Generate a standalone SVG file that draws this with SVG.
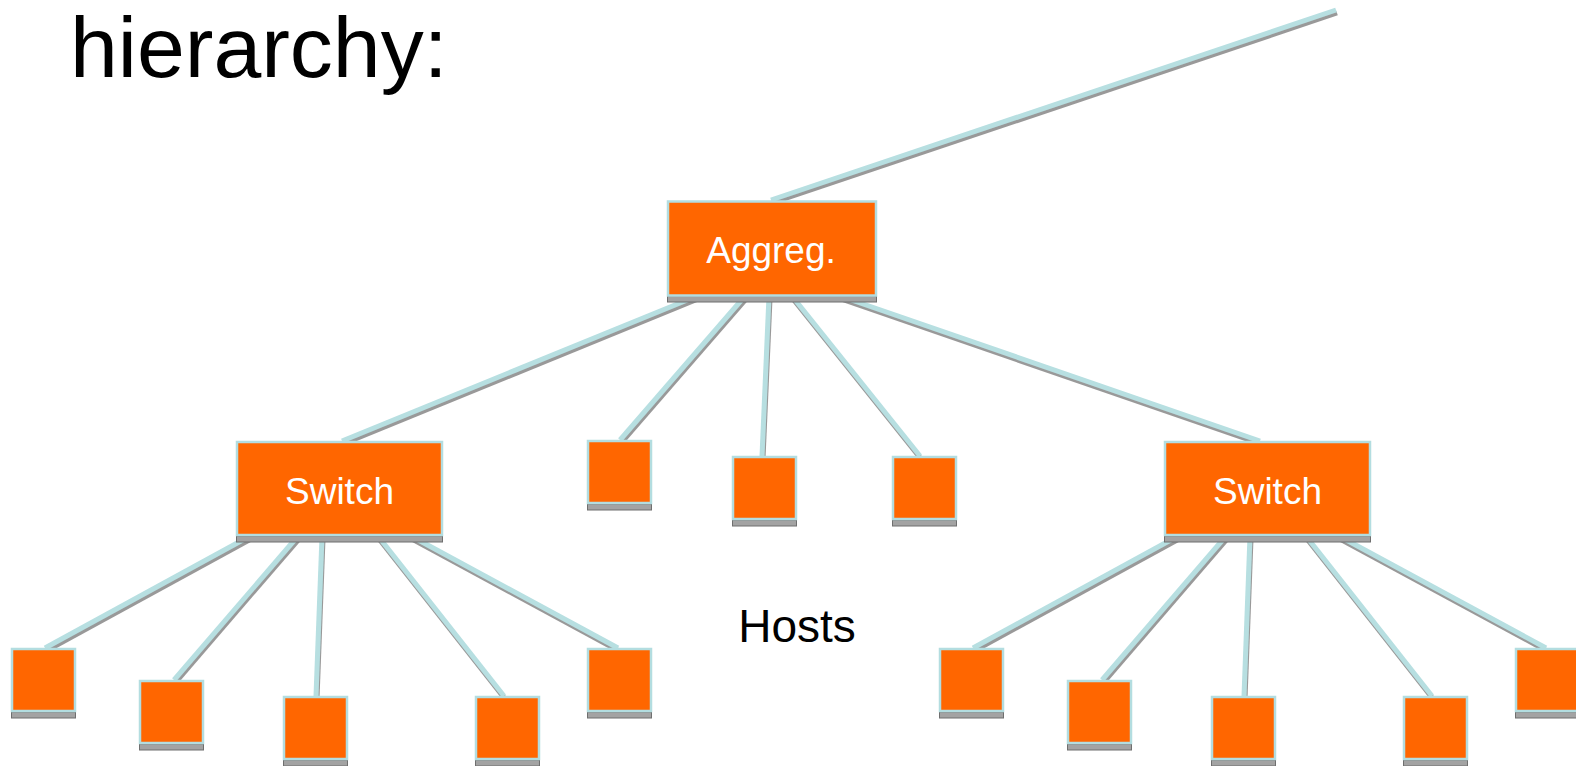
<svg xmlns="http://www.w3.org/2000/svg" width="1576" height="766" viewBox="0 0 1576 766">
<defs>
<filter id="sh" x="-5%" y="-5%" width="110%" height="110%">
<feDropShadow dx="1" dy="3" stdDeviation="0" flood-color="#999999" flood-opacity="1"/>
</filter>
</defs>
<style>
.bg{fill:#ffffff}
.ln{stroke:#b7dfe1;stroke-width:5;fill:none;stroke-linecap:butt}
.box{fill:#ff6600;stroke:#b3dde0;stroke-width:2.5}
.bar{fill:#a3a3a3;stroke:#6f6f6f;stroke-width:1}
.lbl{font-family:"Liberation Sans",Arial,sans-serif;fill:#ffffff;font-size:37px;text-anchor:middle}
.txt{font-family:"Liberation Sans",Arial,sans-serif;fill:#000000}
</style>
<rect class="bg" x="0" y="0" width="1576" height="766"/>
<text class="txt" x="70" y="77" font-size="86">hierarchy:</text>
<text class="txt" x="797" y="642" font-size="46" text-anchor="middle">Hosts</text>
<g id="connectors" filter="url(#sh)">
<line class="ln" x1="771" y1="200" x2="1336" y2="10"/>
<line class="ln" x1="697" y1="296" x2="342" y2="441"/>
<line class="ln" x1="745" y1="296" x2="620" y2="440"/>
<line class="ln" x1="769" y1="296" x2="762" y2="456"/>
<line class="ln" x1="792" y1="296" x2="920" y2="456"/>
<line class="ln" x1="840" y1="296" x2="1260" y2="441"/>
<line class="ln" x1="250" y1="536" x2="45" y2="648"/>
<line class="ln" x1="298" y1="536" x2="174" y2="680"/>
<line class="ln" x1="322" y1="536" x2="316" y2="696"/>
<line class="ln" x1="378" y1="536" x2="504" y2="696"/>
<line class="ln" x1="411" y1="536" x2="618" y2="648"/>
<line class="ln" x1="1178" y1="536" x2="973" y2="648"/>
<line class="ln" x1="1226" y1="536" x2="1102" y2="680"/>
<line class="ln" x1="1250" y1="536" x2="1244" y2="696"/>
<line class="ln" x1="1306" y1="536" x2="1432" y2="696"/>
<line class="ln" x1="1339" y1="536" x2="1546" y2="648"/>
</g>
<g id="aggreg">
<rect class="bar" x="667.5" y="296" width="209" height="6"/>
<rect class="box" x="668" y="201.5" width="208" height="94"/>
<text class="lbl" x="771" y="263">Aggreg.</text>
</g>
<g id="switch-left">
<rect class="bar" x="236.5" y="536" width="206" height="6"/>
<rect class="box" x="237" y="442" width="205" height="93"/>
<text class="lbl" x="339.5" y="504">Switch</text>
</g>
<g id="switch-right">
<rect class="bar" x="1164.5" y="536" width="206" height="6"/>
<rect class="box" x="1165" y="442" width="205" height="93"/>
<text class="lbl" x="1267.5" y="504">Switch</text>
</g>
<g id="host-m1"><rect class="bar" x="587.5" y="504" width="64" height="6"/><rect class="box" x="588" y="441" width="63" height="62"/></g>
<g id="host-m2"><rect class="bar" x="732.5" y="520" width="64" height="6"/><rect class="box" x="733" y="457" width="63" height="62"/></g>
<g id="host-m3"><rect class="bar" x="892.5" y="520" width="64" height="6"/><rect class="box" x="893" y="457" width="63" height="62"/></g>
<g id="host-l1"><rect class="bar" x="11.5" y="712" width="64" height="6"/><rect class="box" x="12" y="649" width="63" height="62"/></g>
<g id="host-l2"><rect class="bar" x="139.5" y="744" width="64" height="6"/><rect class="box" x="140" y="681" width="63" height="62"/></g>
<g id="host-l3"><rect class="bar" x="283.5" y="760" width="64" height="6"/><rect class="box" x="284" y="697" width="63" height="62"/></g>
<g id="host-l4"><rect class="bar" x="475.5" y="760" width="64" height="6"/><rect class="box" x="476" y="697" width="63" height="62"/></g>
<g id="host-l5"><rect class="bar" x="587.5" y="712" width="64" height="6"/><rect class="box" x="588" y="649" width="63" height="62"/></g>
<g id="host-r1"><rect class="bar" x="939.5" y="712" width="64" height="6"/><rect class="box" x="940" y="649" width="63" height="62"/></g>
<g id="host-r2"><rect class="bar" x="1067.5" y="744" width="64" height="6"/><rect class="box" x="1068" y="681" width="63" height="62"/></g>
<g id="host-r3"><rect class="bar" x="1211.5" y="760" width="64" height="6"/><rect class="box" x="1212" y="697" width="63" height="62"/></g>
<g id="host-r4"><rect class="bar" x="1403.5" y="760" width="64" height="6"/><rect class="box" x="1404" y="697" width="63" height="62"/></g>
<g id="host-r5"><rect class="bar" x="1515.5" y="712" width="64" height="6"/><rect class="box" x="1516" y="649" width="63" height="62"/></g>
</svg>
